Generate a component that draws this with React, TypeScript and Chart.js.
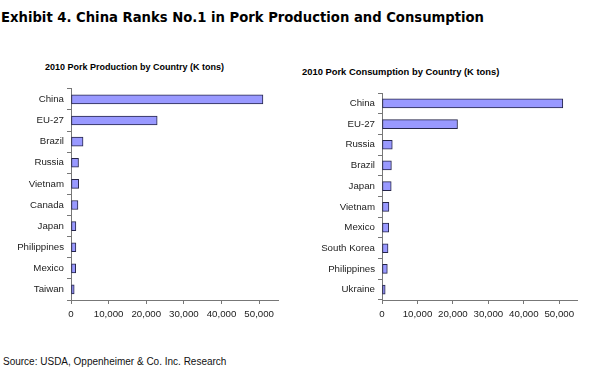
import React, { useEffect, useRef } from "react";
import { Chart, registerables } from "chart.js";

Chart.register(...registerables);

const mainTitle = "Exhibit 4. China Ranks No.1 in Pork Production and Consumption";
const sourceText = "Source: USDA, Oppenheimer & Co. Inc. Research";

const prodTitle = "2010 Pork Production by Country (K tons)";
const prodCountries = ["China", "EU-27", "Brazil", "Russia", "Vietnam", "Canada", "Japan", "Philippines", "Mexico", "Taiwan"];
const prodValues = [51000, 22900, 3200, 2000, 2050, 1850, 1300, 1300, 1250, 850];

const consTitle = "2010 Pork Consumption by Country (K tons)";
const consCountries = ["China", "EU-27", "Russia", "Brazil", "Japan", "Vietnam", "Mexico", "South Korea", "Philippines", "Ukraine"];
const consValues = [51000, 21300, 2900, 2650, 2600, 1950, 1900, 1700, 1500, 900];

const xMin = 0;
const xMax = 55000;
const xTicks = [0, 10000, 20000, 30000, 40000, 50000];

const FONT = "'Liberation Sans', Arial, sans-serif";

function makeConfig(labels: string[], values: number[], yWidth: number, padTop: number, padRight: number): any {
  return {
    type: "bar",
    data: {
      labels,
      datasets: [
        {
          data: values,
          backgroundColor: "#9999ff",
          borderColor: "#26264a",
          borderWidth: 1,
          borderSkipped: false,
          barThickness: 9,
        },
      ],
    },
    options: {
      indexAxis: "y",
      animation: false,
      responsive: false,
      maintainAspectRatio: false,
      layout: { padding: { top: padTop, right: padRight, left: 0, bottom: 0 } },
      plugins: { legend: { display: false }, tooltip: { enabled: false }, title: { display: false } },
      scales: {
        x: {
          type: "linear",
          min: xMin,
          max: xMax,
          ticks: {
            autoSkip: false,
            color: "#222",
            font: { family: FONT, size: 9.7 },
            padding: 5,
            maxRotation: 0,
            minRotation: 0,
            callback: (v: number) => Number(v).toLocaleString("en-US"),
          },
          afterBuildTicks: (scale: any) => {
            scale.ticks = xTicks.map((v) => ({ value: v }));
          },
          afterFit: (scale: any) => {
            scale.height = 30;
          },
          grid: { drawOnChartArea: false, drawTicks: true, tickLength: 4, color: "#777" },
          border: { display: true, color: "#777", width: 1 },
        },
        y: {
          type: "category",
          offset: true,
          ticks: { color: "#222", font: { family: FONT, size: 9.7 }, padding: 3, autoSkip: false },
          afterFit: (scale: any) => {
            scale.width = yWidth;
          },
          grid: { offset: true, drawOnChartArea: false, drawTicks: true, tickLength: 4, color: "#777" },
          border: { display: true, color: "#777", width: 1 },
        },
      },
    },
  };
}

function BarChart(props: { labels: string[]; values: number[]; yWidth: number; padTop: number; padRight: number; style: any }) {
  const ref = useRef<HTMLCanvasElement | null>(null);
  useEffect(() => {
    if (!ref.current) return;
    const chart = new Chart(ref.current, makeConfig(props.labels, props.values, props.yWidth, props.padTop, props.padRight));
    return () => chart.destroy();
  }, []);
  return <canvas ref={ref} width={298} height={250} style={{ position: "absolute", width: 298, height: 250, ...props.style }} />;
}

export default function App() {
  return (
    <div style={{ position: "absolute", left: 0, top: 0, width: 598, height: 375, background: "#fff", overflow: "hidden" }}>
      <div
        style={{
          position: "absolute",
          left: 1,
          top: 10,
          fontFamily: "'DejaVu Sans', Verdana, sans-serif",
          fontWeight: "bold",
          fontSize: 13.2,
          lineHeight: "16px",
          whiteSpace: "nowrap",
          color: "#000",
        }}
      >
        {mainTitle}
      </div>
      <div
        style={{
          position: "absolute",
          left: 45,
          top: 61,
          fontFamily: FONT,
          fontWeight: "bold",
          fontSize: 9,
          lineHeight: "12px",
          whiteSpace: "nowrap",
          color: "#000",
        }}
      >
        {prodTitle}
      </div>
      <div
        style={{
          position: "absolute",
          left: 302,
          top: 66,
          fontFamily: FONT,
          fontWeight: "bold",
          fontSize: 9.4,
          lineHeight: "12px",
          whiteSpace: "nowrap",
          color: "#000",
        }}
      >
        {consTitle}
      </div>
      <BarChart labels={prodCountries} values={prodValues} yWidth={71} padTop={8} padRight={20} style={{ left: 0, top: 80 }} />
      <BarChart labels={consCountries} values={consValues} yWidth={82} padTop={13} padRight={21} style={{ left: 300, top: 80 }} />
      <div
        style={{
          position: "absolute",
          left: 3,
          top: 355,
          fontFamily: FONT,
          fontSize: 10,
          lineHeight: "13px",
          whiteSpace: "nowrap",
          color: "#111",
        }}
      >
        {sourceText}
      </div>
    </div>
  );
}
